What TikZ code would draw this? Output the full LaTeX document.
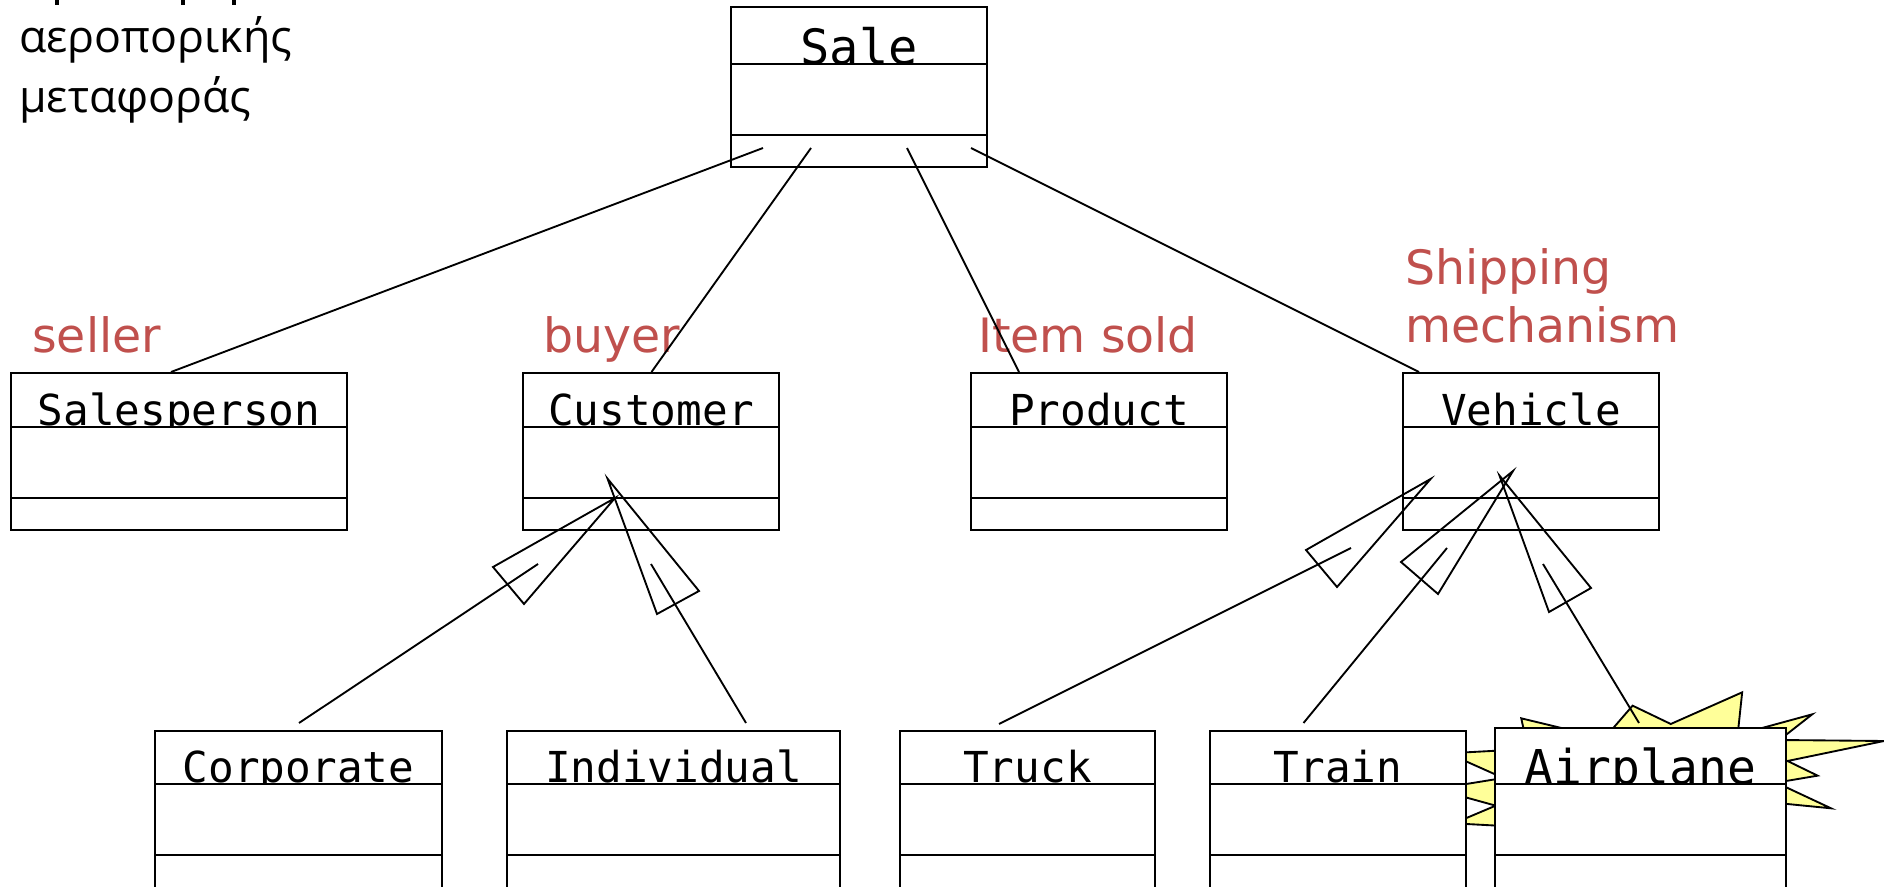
\documentclass[tikz,border=0pt]{standalone}
\usepackage{fontspec}
\setmainfont{DejaVu Sans}
\newfontfamily\monoface{DejaVu Sans Mono}
\newfontfamily\greekface{Open Sans}
\definecolor{labelred}{HTML}{C0504D}
\definecolor{staryellow}{HTML}{FFFF99}
\tikzset{
  ln/.style={line width=1.5pt,black,line join=miter},
  classrect/.style={ln,fill=white},
  classtitle/.style={anchor=base,inner sep=0pt,font=\monoface,text=black},
  rolelabel/.style={anchor=base west,inner sep=0pt,text=labelred,font=\fontsize{35.5}{35.5}\selectfont},
  greektext/.style={anchor=base west,inner sep=0pt,text=black,font=\greekface\fontsize{33.5}{33.5}\selectfont},
  conn/.style={line width=1.4pt,black,line cap=butt},
  gentri/.style={line width=1.4pt,black,line join=miter,miter limit=20},
}
% #1 name, #2 left, #3 right, #4 font size in pt, #5 text; rows set \ya \yb \yc \yd \ybase
\newcommand{\classbox}[5]{%
  \path[fill=white] (#2,\ya) rectangle (#3,\yd);
  \node[classtitle] (#1) at ({(#2+#3)/2},\ybase) {\fontsize{#4}{#4}\selectfont #5};
  \path[fill=white] (#2,\yb) rectangle (#3,\yd);
  \draw[ln] (#2,\ya) rectangle (#3,\yd);
  \draw[ln] (#2,\yb) -- (#3,\yb);
  \draw[ln] (#2,\yc) -- (#3,\yc);
}
\begin{document}
\begin{tikzpicture}[x=0.75pt,y=-0.75pt]
\clip (0,0) rectangle (1884,887);
\fill[white] (0,0) rectangle (1884,887);

% burst behind Train and Airplane (zoomed coordinates)
\begin{scope}[shift={(1180,660)},xscale=0.449,yscale=0.3333]
\draw[ln,fill=staryellow,line width=1.4pt]
 (1008,137) -- (1093,192) -- (1252,97) -- (1242,224) -- (1408,163) -- (1335,240)
 -- (1568,243) -- (1353,303) -- (1420,347) -- (1328,368) -- (1450,445) -- (1300,425)
 -- (1200,480) -- (720,498) -- (610,490) -- (703,437) -- (569,387) -- (720,354)
 -- (597,280)  -- (775,267) -- (760,175) -- (945,235) -- cycle;
\end{scope}

% stems of the cut-off first text line
\fill[black] (55,0) rectangle (59,5.5);
\fill[black] (181,0) rectangle (185,5.5);
\fill[black] (232,0) rectangle (236,5.5);

\node[greektext] (g1) at (19,53) {αεροπορικής};
\node[greektext] (g2) at (19,113) {μεταφοράς};

\def\ya{7}\def\yb{64}\def\yc{135}\def\yd{167}\def\ybase{64.5}
\classbox{sale}{731}{987}{36.5}{Sale}

\def\ya{373}\def\yb{427}\def\yc{498}\def\yd{530}\def\ybase{425.5}
\classbox{salesperson}{11}{347}{32}{Salesperson}
\classbox{customer}{523}{779}{32}{Customer}
\classbox{product}{971}{1227}{32}{Product}
\classbox{vehicle}{1403}{1659}{32}{Vehicle}

\def\ya{731}\def\yb{784}\def\yc{855}\def\yd{900}\def\ybase{782.5}
\classbox{corporate}{155}{442}{32}{Corporate}
\classbox{individual}{507}{840}{32}{Individual}
\classbox{truck}{900}{1155}{32}{Truck}
\classbox{train}{1210}{1466}{32}{Train}
\def\ya{728}\def\ybase{784.5}
\classbox{airplane}{1495}{1786}{36}{Airplane}

\node[rolelabel] (l1) at (32,353) {seller};
\node[rolelabel] (l2) at (543,353) {buyer};
\node[rolelabel] (l3) at (978,353) {Item sold};
\node[rolelabel] (l4) at (1405,285) {Shipping};
\node[rolelabel] (l5) at (1405,343) {mechanism};

% association ends
\coordinate (s1) at (763,148); \coordinate (e1) at (171,372);
\coordinate (s2) at (811,148); \coordinate (e2) at (651.5,372);
\coordinate (s3) at (907,148); \coordinate (e3) at (1019,372);
\coordinate (s4) at (971,148); \coordinate (e4) at (1419,372);
\draw[conn] (s1) -- (e1);
\draw[conn] (s2) -- (e2);
\draw[conn] (s3) -- (e3);
\draw[conn] (s4) -- (e4);

% generalisations
\coordinate (c1) at (299,723); \coordinate (c1i) at (538,564);
\coordinate (c1a) at (615,498); \coordinate (c1b) at (493,567); \coordinate (c1c) at (524,604);
\draw[conn] (c1) -- (c1i);
\draw[gentri] (c1a) -- (c1b) -- (c1c) -- cycle;

\coordinate (c2) at (746,723); \coordinate (c2i) at (651,564);
\coordinate (c2a) at (607.5,478.6); \coordinate (c2b) at (657,614); \coordinate (c2c) at (699,591);
\draw[conn] (c2) -- (c2i);
\draw[gentri] (c2a) -- (c2b) -- (c2c) -- cycle;

\coordinate (v1) at (999,724); \coordinate (v1i) at (1351,548);
\coordinate (v1a) at (1430.7,478.9); \coordinate (v1b) at (1306,550); \coordinate (v1c) at (1337,587);
\draw[conn] (v1) -- (v1i);
\draw[gentri] (v1a) -- (v1b) -- (v1c) -- cycle;

\coordinate (v2) at (1303.5,723); \coordinate (v2i) at (1447,548);
\coordinate (v2a) at (1513,471); \coordinate (v2b) at (1401,562); \coordinate (v2c) at (1438,594);
\draw[conn] (v2) -- (v2i);
\draw[gentri] (v2a) -- (v2b) -- (v2c) -- cycle;

\coordinate (v3) at (1639,723); \coordinate (v3i) at (1543,564);
\coordinate (v3a) at (1499.5,475.6); \coordinate (v3b) at (1549,612); \coordinate (v3c) at (1591,588);
\draw[conn] (v3) -- (v3i);
\draw[gentri] (v3a) -- (v3b) -- (v3c) -- cycle;
\end{tikzpicture}
\end{document}
